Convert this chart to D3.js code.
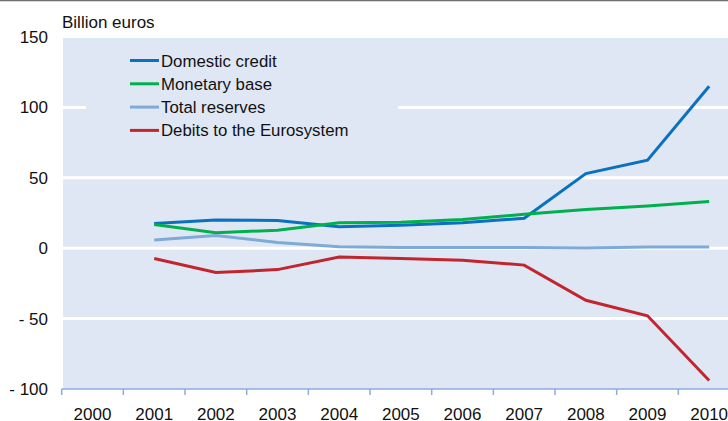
<!DOCTYPE html>
<html>
<head>
<meta charset="utf-8">
<script src="https://cdn.jsdelivr.net/npm/d3@7"></script>
<style>
  body { margin: 0; background: #fff; }
  svg { display: block; font-family: "Liberation Sans", Arial, sans-serif; }
</style>
</head>
<body>
<script>
// categories and values
let years = [2000, 2001, 2002, 2003, 2004, 2005, 2006, 2007, 2008, 2009, 2010]
let dataYears = [2001, 2002, 2003, 2004, 2005, 2006, 2007, 2008, 2009, 2010]
let domesticCredit = [17.5, 20, 19.7, 15.3, 16.3, 18, 21.3, 53, 62.5, 115]
let monetaryBase = [16.8, 11, 12.8, 18, 18.5, 20.4, 24.1, 27.5, 30, 33.2]
let totalReserves = [5.8, 9, 4.1, 1.1, 0.5, 0.5, 0.5, 0.2, 0.9, 0.9]
let debits = [-7.3, -17.3, -15.2, -6.2, -7.3, -8.5, -12, -37, -48, -94]
let yTicks = [-100, -50, 0, 50, 100, 150]
let seriesNames = ['Domestic credit', 'Monetary base', 'Total reserves', 'Debits to the Eurosystem']
let seriesColors = ['#0a70c0', '#00b04f', '#7eaad8', '#c1262e']

let W = 728, H = 421
let plot = {left: 61.7, top: 37, right: 740, bottom: 389}

let svg = d3.select('body').append('svg').attr('width', W).attr('height', H)

// top rule
svg.append('line').attr('x1', 0).attr('x2', W).attr('y1', 0.5).attr('y2', 0.5)
  .attr('stroke', '#6f6f6f').attr('stroke-width', 1.5)

let x = d3.scaleBand().domain(years).range([plot.left, plot.right])
let y = d3.scaleLinear().domain([-100, 150]).range([plot.bottom, plot.top])

// plot background
svg.append('rect').attr('x', 63).attr('y', y(150) + 1).attr('width', W - 63)
  .attr('height', y(-100) - y(150) - 1).attr('fill', '#e0e7f4')

// gridlines
svg.append('g').selectAll('line').data(yTicks.filter(function (d) { return d > -100 && d < 150 }))
  .enter().append('line')
  .attr('x1', 63).attr('x2', W)
  .attr('y1', function (d) { return y(d) }).attr('y2', function (d) { return y(d) })
  .attr('stroke', '#fff').attr('stroke-width', 3)

// y labels
svg.append('g').selectAll('text').data(yTicks).enter().append('text')
  .attr('x', 48).attr('y', function (d) { return y(d) + 6 })
  .attr('text-anchor', 'end').attr('font-size', 17).attr('fill', '#111')
  .text(function (d) { return d < 0 ? '- ' + Math.abs(d) : d })

svg.append('text').attr('x', 62).attr('y', 28).attr('font-size', 17).attr('fill', '#111')
  .text('Billion euros')

// x axis
let xAxis = svg.append('g').attr('transform', 'translate(0,' + plot.bottom + ')')
  .call(d3.axisBottom(x).tickSize(0).tickPadding(0).tickFormat(''))
xAxis.select('.domain').attr('stroke', '#8eaadc').attr('stroke-width', 1.5)
  .attr('d', 'M' + plot.left + ',0H' + plot.right)
xAxis.selectAll('.tick').remove()
xAxis.selectAll('line.tk').data(years).enter().append('line').attr('class', 'tk')
  .attr('x1', function (d) { return x(d) }).attr('x2', function (d) { return x(d) })
  .attr('y1', 0).attr('y2', 6).attr('stroke', '#8eaadc').attr('stroke-width', 1.5)
xAxis.selectAll('text.lb').data(years).enter().append('text').attr('class', 'lb')
  .attr('x', function (d) { return x(d) + x.bandwidth() / 2 }).attr('y', 31)
  .attr('text-anchor', 'middle').attr('font-size', 17).attr('fill', '#111')
  .text(function (d) { return d })

// legend box hides the 100 gridline
let legend = svg.append('g')
legend.append('rect').attr('x', 86).attr('y', 48).attr('width', 312).attr('height', 92)
  .attr('fill', '#e0e7f4')

let allSeries = [domesticCredit, monetaryBase, totalReserves, debits]
let line = d3.line()
  .x(function (d, i) { return x(dataYears[i]) + x.bandwidth() / 2 })
  .y(function (d) { return y(d) })

svg.append('g').selectAll('path').data(allSeries).enter().append('path')
  .attr('d', line).attr('fill', 'none')
  .attr('stroke', function (d, i) { return seriesColors[i] })
  .attr('stroke-width', 3).attr('stroke-linejoin', 'miter')

seriesNames.forEach(function (n, i) {
  let yy = 60.5 + i * 23.3
  legend.append('line').attr('x1', 130).attr('x2', 159).attr('y1', yy).attr('y2', yy)
    .attr('stroke', seriesColors[i]).attr('stroke-width', 3)
  legend.append('text').attr('x', 161).attr('y', yy + 6).attr('font-size', 16.8)
    .attr('fill', '#111').text(n)
})
</script>
</body>
</html>
